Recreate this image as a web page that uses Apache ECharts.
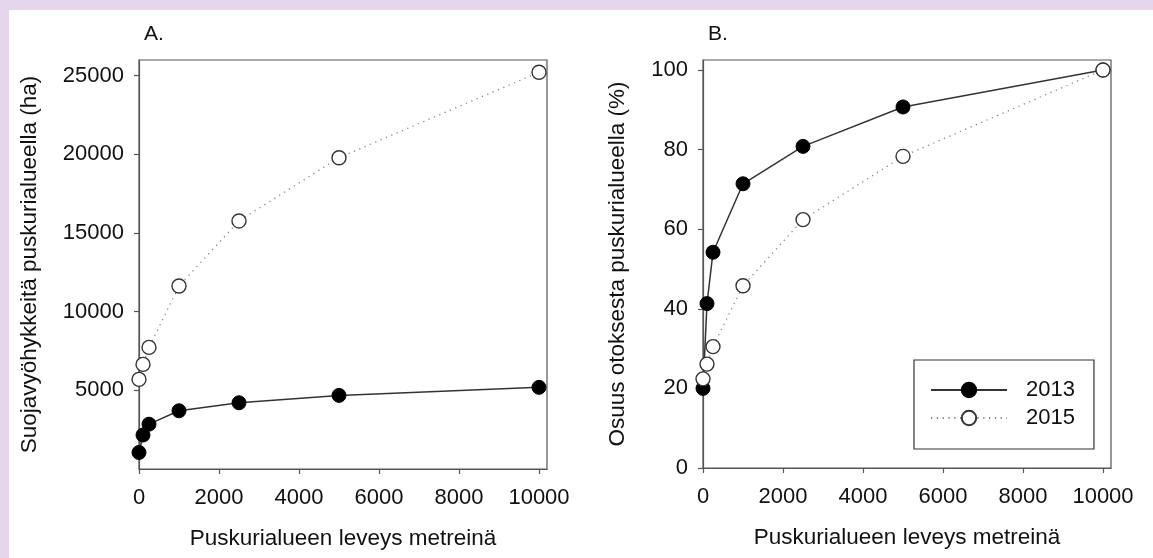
<!DOCTYPE html>
<html>
<head>
<meta charset="utf-8">
<script src="https://cdn.jsdelivr.net/npm/echarts@6/dist/echarts.min.js"></script>
<style>
  html, body { margin: 0; padding: 0; }
  body { width: 1153px; height: 558px; background: #e5d5ed; position: relative; overflow: hidden; }
  #paper { position: absolute; left: 9px; top: 10px; right: 0; bottom: 0; background: #ffffff; }
  #chart { position: absolute; left: 0; top: 0; width: 1153px; height: 558px; }
</style>
</head>
<body>
<div id="paper"></div>
<div id="chart"></div>
<script>
// Buffer width in metres (x values shared by all series)
const bufferWidths = [0, 100, 250, 1000, 2500, 5000, 10000];
// Panel A: protection zones within buffer (ha)
const areaHa2013 = [1050, 2160, 2850, 3700, 4210, 4680, 5190];
const areaHa2015 = [5700, 6650, 7730, 11630, 15770, 19790, 25220];
// Panel B: share of sample within buffer (%)
const share2013 = [20.0, 41.3, 54.2, 71.4, 80.8, 90.7, 100];
const share2015 = [22.4, 26.1, 30.5, 45.8, 62.4, 78.3, 100];
// Tick labels
const xTicks = [0, 2000, 4000, 6000, 8000, 10000];
const yTicksA = [5000, 10000, 15000, 20000, 25000];
const yTicksB = [0, 20, 40, 60, 80, 100];
const seriesNames = ['2013', '2015'];
const panelTitles = ['A.', 'B.'];
const xTitle = 'Puskurialueen leveys metreinä';
const yTitles = ['Suojavyöhykkeitä puskurialueella (ha)', 'Osuus otoksesta puskurialueella (%)'];

const FONT = 'Liberation Sans, Arial, sans-serif';
const AXIS_COLOR = '#555555';
const TEXT_COLOR = '#111111';

const pair = (xs, ys) => xs.map((x, i) => [x, ys[i]]);
const plain = v => String(v);

function xAxisFor(gridIndex) {
  return {
    type: 'value', gridIndex, min: 0, max: 10200,
    name: xTitle, nameLocation: 'middle', nameGap: 58,
    nameTextStyle: { fontFamily: FONT, fontSize: 22.5, color: TEXT_COLOR },
    axisLine: { show: true, lineStyle: { color: AXIS_COLOR, width: 1.2 } },
    axisTick: { show: true, inside: false, length: 5, customValues: xTicks, lineStyle: { color: AXIS_COLOR, width: 1.2 } },
    axisLabel: { customValues: xTicks, formatter: plain, margin: 18, fontFamily: FONT, fontSize: 22, color: TEXT_COLOR },
    splitLine: { show: false }
  };
}
function yAxisFor(gridIndex, max, ticks, tickValues, nameText, gap) {
  return {
    type: 'value', gridIndex, min: 0, max,
    name: nameText, nameLocation: 'middle', nameGap: gap,
    nameTextStyle: { fontFamily: FONT, fontSize: 22.5, color: TEXT_COLOR },
    axisLine: { show: true, lineStyle: { color: AXIS_COLOR, width: 1.2 } },
    axisTick: { show: true, inside: false, length: 5, customValues: tickValues, lineStyle: { color: AXIS_COLOR, width: 1.2 } },
    axisLabel: { customValues: ticks, formatter: plain, margin: 15, fontFamily: FONT, fontSize: 22, color: TEXT_COLOR },
    splitLine: { show: false }
  };
}

const solidStyle = { color: '#333333', width: 1.5, type: 'solid' };
const dottedStyle = { color: '#8a8a8a', width: 1.3, type: [1.3, 4.5] };
const filledItem = { color: '#000000', borderColor: '#000000', borderWidth: 1 };
const openItem = { color: '#ffffff', borderColor: '#333333', borderWidth: 1.4 };

function lineSeries(name, data, xi, filled) {
  return {
    type: 'line', name, xAxisIndex: xi, yAxisIndex: xi, data,
    symbol: 'circle', symbolSize: 14, showAllSymbol: true, clip: false,
    lineStyle: filled ? solidStyle : dottedStyle,
    itemStyle: filled ? filledItem : openItem,
    emphasis: { disabled: true }, animation: false
  };
}

const chart = echarts.init(document.getElementById('chart'), null, { renderer: 'canvas' });
chart.setOption({
  backgroundColor: 'transparent',
  animation: false,
  title: [
    { text: panelTitles[0], left: 139, top: 19, textStyle: { fontFamily: FONT, fontSize: 21, fontWeight: 'normal', color: TEXT_COLOR } },
    { text: panelTitles[1], left: 703, top: 19, textStyle: { fontFamily: FONT, fontSize: 21, fontWeight: 'normal', color: TEXT_COLOR } }
  ],
  grid: [
    { left: 139, top: 60, right: 606, bottom: 89, show: true, borderColor: AXIS_COLOR, borderWidth: 1.2, backgroundColor: 'transparent' },
    { left: 703, top: 60, right: 42, bottom: 90, show: true, borderColor: AXIS_COLOR, borderWidth: 1.2, backgroundColor: 'transparent' }
  ],
  xAxis: [xAxisFor(0), xAxisFor(1)],
  yAxis: [
    yAxisFor(0, 26000, yTicksA, [5000, 10000, 15000, 20000, 25000], yTitles[0], 98),
    yAxisFor(1, 102.5, yTicksB, yTicksB, yTitles[1], 74)
  ],
  legend: {
    data: seriesNames, orient: 'vertical', left: 914, top: 360,
    padding: [19, 19, 20, 16], itemGap: 6, itemWidth: 76, itemHeight: 18,
    borderColor: '#333333', borderWidth: 1.2, backgroundColor: '#ffffff',
    textStyle: { fontFamily: FONT, fontSize: 22, color: TEXT_COLOR, padding: [0, 0, 0, 14] },
    selectedMode: false
  },
  series: [
    lineSeries(seriesNames[0], pair(bufferWidths, areaHa2013), 0, true),
    lineSeries(seriesNames[1], pair(bufferWidths, areaHa2015), 0, false),
    lineSeries(seriesNames[0], pair(bufferWidths, share2013), 1, true),
    lineSeries(seriesNames[1], pair(bufferWidths, share2015), 1, false)
  ]
});
</script>
</body>
</html>
